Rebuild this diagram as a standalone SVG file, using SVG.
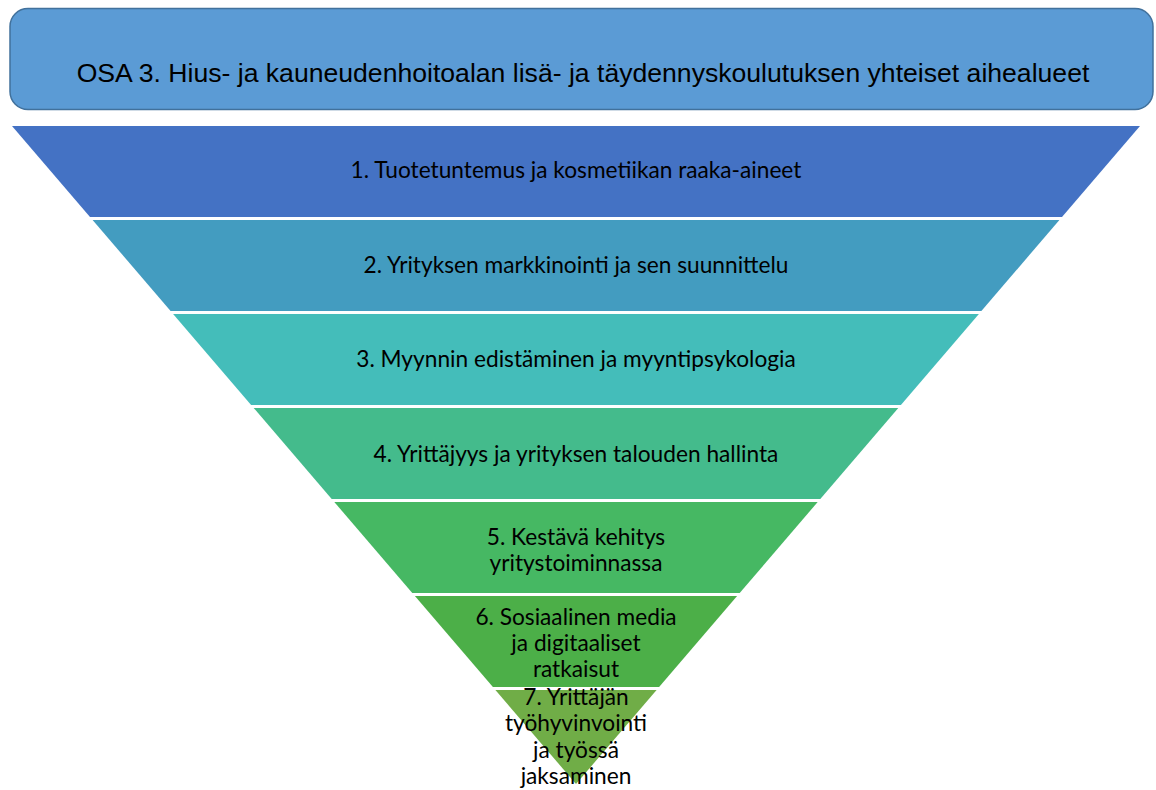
<svg xmlns="http://www.w3.org/2000/svg" width="1156" height="790" viewBox="0 0 1156 790">
<style>
.band{stroke:none}
.lbl{font-family:Lato,"Open Sans",sans-serif;font-size:22.7px;fill:#000;text-anchor:middle}
.title{font-family:"Liberation Sans",Arial,sans-serif;font-size:26.6px;fill:#000;text-anchor:middle}
</style>
<rect width="1156" height="790" fill="#fff"/>
<g id="title">
<rect x="10" y="8.5" width="1143" height="101" rx="18" ry="18" fill="#5B9BD5" stroke="#41719C" stroke-width="1.5"/>
<text class="title" x="583" y="82">OSA 3. Hius- ja kauneudenhoitoalan lisä- ja täydennyskoulutuksen yhteiset aihealueet</text>
</g>
<g id="band1">
<polygon class="band" fill="#4472C4" points="12,126 1140,126 1062,217 90,217"/>
<text class="lbl" x="576" y="178">1. Tuotetuntemus ja kosmetiikan raaka-aineet</text>
</g>
<g id="band2">
<polygon class="band" fill="#439CC0" points="92.6,220 1059.4,220 981.4,311 170.6,311"/>
<text class="lbl" x="576" y="273">2. Yrityksen markkinointi ja sen suunnittelu</text>
</g>
<g id="band3">
<polygon class="band" fill="#44BDBA" points="173.1,314 978.9,314 900.9,405 251.1,405"/>
<text class="lbl" x="576" y="367">3. Myynnin edistäminen ja myyntipsykologia</text>
</g>
<g id="band4">
<polygon class="band" fill="#44BB8C" points="253.7,408 898.3,408 820.3,499 331.7,499"/>
<text class="lbl" x="576" y="462">4. Yrittäjyys ja yrityksen talouden hallinta</text>
</g>
<g id="band5">
<polygon class="band" fill="#46B863" points="334.3,502 817.7,502 739.7,593 412.3,593"/>
<text class="lbl" x="576" y="545">5. Kestävä kehitys</text>
<text class="lbl" x="576" y="571">yritystoiminnassa</text>
</g>
<g id="band6">
<polygon class="band" fill="#4CAF48" points="414.9,596 737.1,596 659.1,687 492.9,687"/>
<text class="lbl" x="576" y="625">6. Sosiaalinen media</text>
<text class="lbl" x="576" y="651">ja digitaaliset</text>
<text class="lbl" x="576" y="677">ratkaisut</text>
</g>
<g id="band7">
<polygon class="band" fill="#70AD47" points="495.4,690 656.6,690 576,784"/>
<text class="lbl" x="576" y="705">7. Yrittäjän</text>
<text class="lbl" x="576" y="731">työhyvinvointi</text>
<text class="lbl" x="576" y="758">ja työssä</text>
<text class="lbl" x="576" y="784">jaksaminen</text>
</g>
<g id="connectors"/>
</svg>
